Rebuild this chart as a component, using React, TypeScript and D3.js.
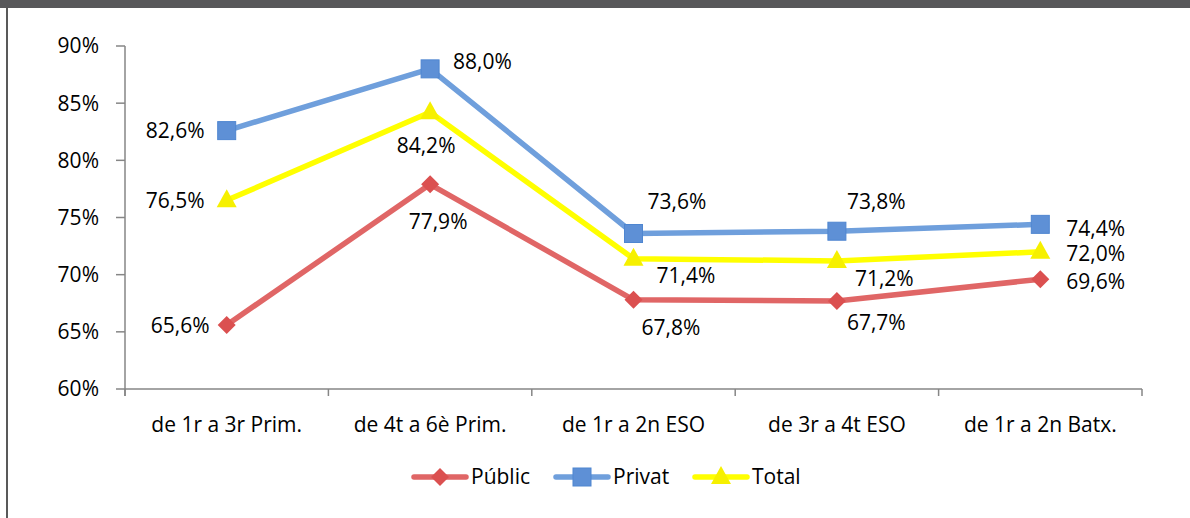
import * as d3 from 'd3';

const categories = ['de 1r a 3r Prim.', 'de 4t a 6è Prim.', 'de 1r a 2n ESO', 'de 3r a 4t ESO', 'de 1r a 2n Batx.'];
const publicValues = [65.6, 77.9, 67.8, 67.7, 69.6];
const privatValues = [82.6, 88.0, 73.6, 73.8, 74.4];
const totalValues = [76.5, 84.2, 71.4, 71.2, 72.0];
const yTicks = [60, 65, 70, 75, 80, 85, 90];

// label placement per point: [dx, dy, anchor]
type LabelPos = [number, number, string];
const publicLabels: LabelPos[] = [[-17, 1, 'end'], [8, 37, 'middle'], [8, 28, 'start'], [10, 22, 'start'], [26, 2, 'start']];
const privatLabels: LabelPos[] = [[-22, 0, 'end'], [23, -7, 'start'], [14, -32, 'start'], [10, -30, 'start'], [26, 4, 'start']];
const totalLabels: LabelPos[] = [[-22, 0, 'end'], [-4, 33, 'middle'], [23, 17, 'start'], [18, 18, 'start'], [26, 2, 'start']];

const FONT = '"Open Sans", sans-serif';
const FS = 21;

const series = [
  { name: 'Públic', values: publicValues, labels: publicLabels, line: '#E06666', marker: '#DB5050', shape: 'diamond' },
  { name: 'Privat', values: privatValues, labels: privatLabels, line: '#6F9FDC', marker: '#5E90D6', shape: 'square' },
  { name: 'Total', values: totalValues, labels: totalLabels, line: '#FFFF00', marker: '#F6F000', shape: 'triangle' },
];

function Marker({ shape, x, y, color }: { shape: string; x: number; y: number; color: string }) {
  if (shape === 'square') {
    return <rect x={x - 9} y={y - 9} width={18} height={18} fill={color} stroke="#4F86D0" strokeWidth={1} />;
  }
  if (shape === 'diamond') {
    return <path d={`M${x},${y - 9}L${x + 9},${y}L${x},${y + 9}L${x - 9},${y}Z`} fill={color} />;
  }
  return <path d={`M${x},${y - 11}L${x + 10},${y + 7}L${x - 10},${y + 7}Z`} fill={color} />;
}

export default function App() {
  const width = 1190;
  const height = 518;
  const left = 125;
  const right = 1142;
  const top = 46;
  const bottom = 389;

  const x = d3.scaleBand<string>().domain(categories).range([left, right]);
  const y = d3.scaleLinear().domain([60, 90]).range([bottom, top]);
  const cx = (c: string) => (x(c) ?? 0) + x.bandwidth() / 2;
  const line = d3.line<number>().x((_, i) => cx(categories[i])).y((d) => y(d));

  const legendItems = [
    { s: series[0], x0: 414 },
    { s: series[1], x0: 556 },
    { s: series[2], x0: 695 },
  ];

  return (
    <div style={{ position: 'absolute', left: 0, top: 0 }}>
      <svg width={width} height={height} style={{ display: 'block' }} fontFamily={FONT}>
        <rect x={0} y={0} width={width} height={height} fill="#fff" />
        <rect x={0} y={0} width={width} height={8} fill="#58585A" />
        <line x1={7} y1={8} x2={7} y2={height} stroke="#595959" strokeWidth={2} />

        {/* y axis */}
        <line x1={left} y1={top} x2={left} y2={bottom + 7} stroke="#868686" strokeWidth={1.5} />
        {yTicks.map((t) => (
          <g key={t}>
            <line x1={left - 9} x2={left} y1={y(t)} y2={y(t)} stroke="#868686" strokeWidth={1.5} />
            <text x={left - 26} y={y(t)} dy="0.35em" textAnchor="end" fontSize={FS} fill="#000">
              {t}%
            </text>
          </g>
        ))}

        {/* x axis */}
        <line x1={left} y1={bottom} x2={right} y2={bottom} stroke="#868686" strokeWidth={1.5} />
        {[...categories.map((c) => x(c) ?? 0), right].map((p, i) => (
          <line key={i} x1={p} x2={p} y1={bottom} y2={bottom + 7} stroke="#868686" strokeWidth={1.5} />
        ))}
        {categories.map((c) => (
          <text key={c} x={cx(c)} y={425} dy="0.35em" textAnchor="middle" fontSize={FS} fill="#000">
            {c}
          </text>
        ))}

        {/* series */}
        {series.map((s) => (
          <g key={s.name}>
            <path d={line(s.values) ?? ''} fill="none" stroke={s.line} strokeWidth={5.5} strokeLinejoin="round" strokeLinecap="round" />
            {s.values.map((v, i) => (
              <Marker key={i} shape={s.shape} x={cx(categories[i])} y={y(v)} color={s.marker} />
            ))}
          </g>
        ))}
        {series.map((s) =>
          s.values.map((v, i) => {
            const [dx, dy, anchor] = s.labels[i];
            return (
              <text
                key={s.name + i}
                x={cx(categories[i]) + dx}
                y={y(v) + dy}
                dy="0.35em"
                textAnchor={anchor as any}
                fontSize={FS}
                fill="#000"
              >
                {v.toFixed(1).replace('.', ',')}%
              </text>
            );
          })
        )}

        {/* legend */}
        {legendItems.map(({ s, x0 }) => (
          <g key={s.name}>
            <line x1={x0} x2={x0 + 52} y1={477} y2={477} stroke={s.line} strokeWidth={5.5} strokeLinecap="round" />
            <Marker shape={s.shape} x={x0 + 26} y={477} color={s.marker} />
            <text x={x0 + 57} y={477} dy="0.35em" fontSize={FS} fill="#000">
              {s.name}
            </text>
          </g>
        ))}
      </svg>
    </div>
  );
}
